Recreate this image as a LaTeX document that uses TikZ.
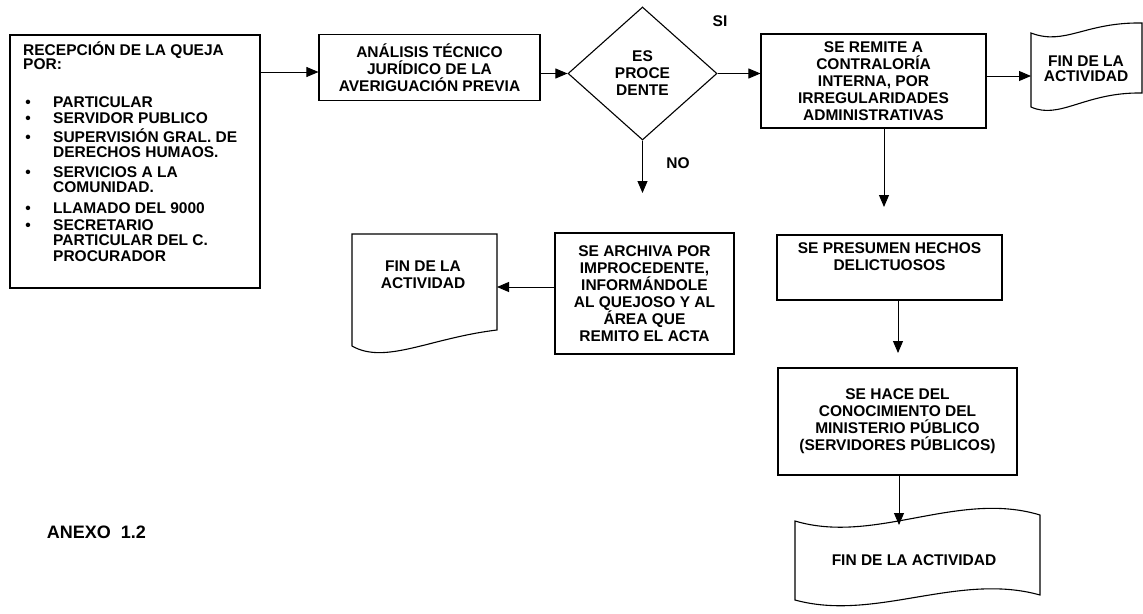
\documentclass[tikz,border=0pt]{standalone}
\usepackage{fontspec}
\setmainfont{Liberation Sans}
\usetikzlibrary{shapes.geometric,arrows.meta,positioning}

\tikzset{
  caja/.style={draw, line width=1.1pt, inner sep=0pt, align=center},
  texto/.style={inner sep=0pt, align=center},
  flecha/.style={->, line width=0.9pt},
  hoja/.style={line width=1.1pt}
}

\begin{document}
\begin{tikzpicture}[>={Triangle[length=12pt,width=10pt]}, x=1pt, y=-1pt,
    every node/.style={font=\fontsize{15.5}{17}\selectfont\bfseries}]
    \useasboundingbox (0,0) rectangle (1143,613);

    % Recepcion de la queja
    \node[caja, minimum width=250pt, minimum height=253pt] (queja) at (135,161.5) {};
    \node[texto, anchor=base west] (titulo) at (23,55.5) {RECEPCIÓN DE LA QUEJA};
    \node[texto, anchor=base west] (por) at (23,69.5) {POR:};
    \foreach \yy/\txt [count=\i] in {107.5/PARTICULAR, 123.5/SERVIDOR PUBLICO,
        142.5/SUPERVISIÓN GRAL. DE, 157.5/DERECHOS HUMAOS., 177.5/SERVICIOS A LA,
        192.5/COMUNIDAD., 213.5/LLAMADO DEL 9000, 230.5/SECRETARIO,
        245.5/PARTICULAR DEL C., 261.5/PROCURADOR} {
        \node[texto, anchor=base west] (item\i) at (53,\yy) {\txt};
    }
    \foreach \yy [count=\i] in {107.5,123.5,142.5,177.5,213.5,230.5} {
        \node[texto, anchor=base] (punto\i) at (28,\yy) {\textbullet};
    }

    % Analisis y decision
    \node[caja, minimum width=221pt, minimum height=66pt] (analisis) at (429.5,67.5)
        {ANÁLISIS TÉCNICO\\JURÍDICO DE LA\\AVERIGUACIÓN PREVIA};
    \node[caja, diamond, minimum width=149pt, minimum height=133pt] (decision) at (642.5,73.5)
        {ES\\PROCE\\DENTE};
    \node[texto, anchor=base] (si) at (720,26.5) {SI};
    \node[texto, anchor=base] (no) at (678,168.5) {NO};

    % Rama SI
    \node[caja, minimum width=225pt, minimum height=94pt] (remite) at (873.5,81)
        {SE REMITE A\\CONTRALORÍA\\INTERNA, POR\\IRREGULARIDADES\\ADMINISTRATIVAS};
    \node[caja, minimum width=225pt, minimum height=65pt] (hechos) at (889.5,267.5) {};
    \node[texto, below=8pt of hechos.north] (hechostxt) {SE PRESUMEN HECHOS\\DELICTUOSOS};
    \node[caja, minimum width=239pt, minimum height=107pt] (mp) at (897.5,421.5)
        {SE HACE DEL\\CONOCIMIENTO DEL\\MINISTERIO PÚBLICO\\(SERVIDORES PÚBLICOS)};

    % Rama NO
    \node[caja, minimum width=179pt, minimum height=121pt] (archiva) at (644.5,293.5)
        {SE ARCHIVA POR\\IMPROCEDENTE,\\INFORMÁNDOLE\\AL QUEJOSO Y AL\\ÁREA QUE\\REMITO EL ACTA};

    % Fin de la actividad (hojas)
    \draw[hoja] (1031,33) .. controls (1065,46) and (1085,22) .. (1142,23) -- (1142,93)
        .. controls (1085,92) and (1060,120) .. (1031,107) -- cycle;
    \node[texto] (fin1) at (1086,69) {FIN DE LA\\[-2pt]ACTIVIDAD};
    \draw[hoja] (352,346) -- (352,234) -- (497,234) -- (497,330)
        .. controls (430,338) and (385,365) .. (352,346) -- cycle;
    \node[texto] (fin2) at (423,275) {FIN DE LA\\ACTIVIDAD};
    \draw[hoja] (795,521) .. controls (875,545) and (958,490) .. (1040,515) -- (1040,595)
        .. controls (958,572) and (875,622) .. (795,600) -- cycle;
    \node[texto] (fin3) at (914,560) {FIN DE LA ACTIVIDAD};

    \node[texto, font=\fontsize{18}{20}\selectfont\bfseries] (anexo) at (96.5,532)
        {ANEXO\hspace{10pt}1.2};

    % Puntas libres
    \coordinate (fin1w) at (1031,76);
    \coordinate (fin2e) at (497,287);
    \coordinate (fin3n) at (899,525);
    \coordinate (baja0) at (642.5,193);
    \coordinate (baja1) at (884,207);
    \coordinate (baja2) at (898,353);

    % Conectores
    \draw[flecha] ([yshift=-4.5pt]analisis.west -| queja.east) -- ([yshift=-4.5pt]analisis.west);
    \draw[flecha] (decision.west -| analisis.east) -- (decision.west);
    \draw[flecha] (decision.east) -- (decision.east -| remite.west);
    \draw[flecha] (fin1w -| remite.east) -- (fin1w);
    \draw[flecha] (decision.south) -- (baja0);
    \draw[flecha] (remite.south -| baja1) -- (baja1);
    \draw[flecha] (hechos.south -| baja2) -- (baja2);
    \draw[flecha] (mp.south -| fin3n) -- (fin3n);
    \draw[flecha] (fin2e -| archiva.west) -- (fin2e);
\end{tikzpicture}
\end{document}
